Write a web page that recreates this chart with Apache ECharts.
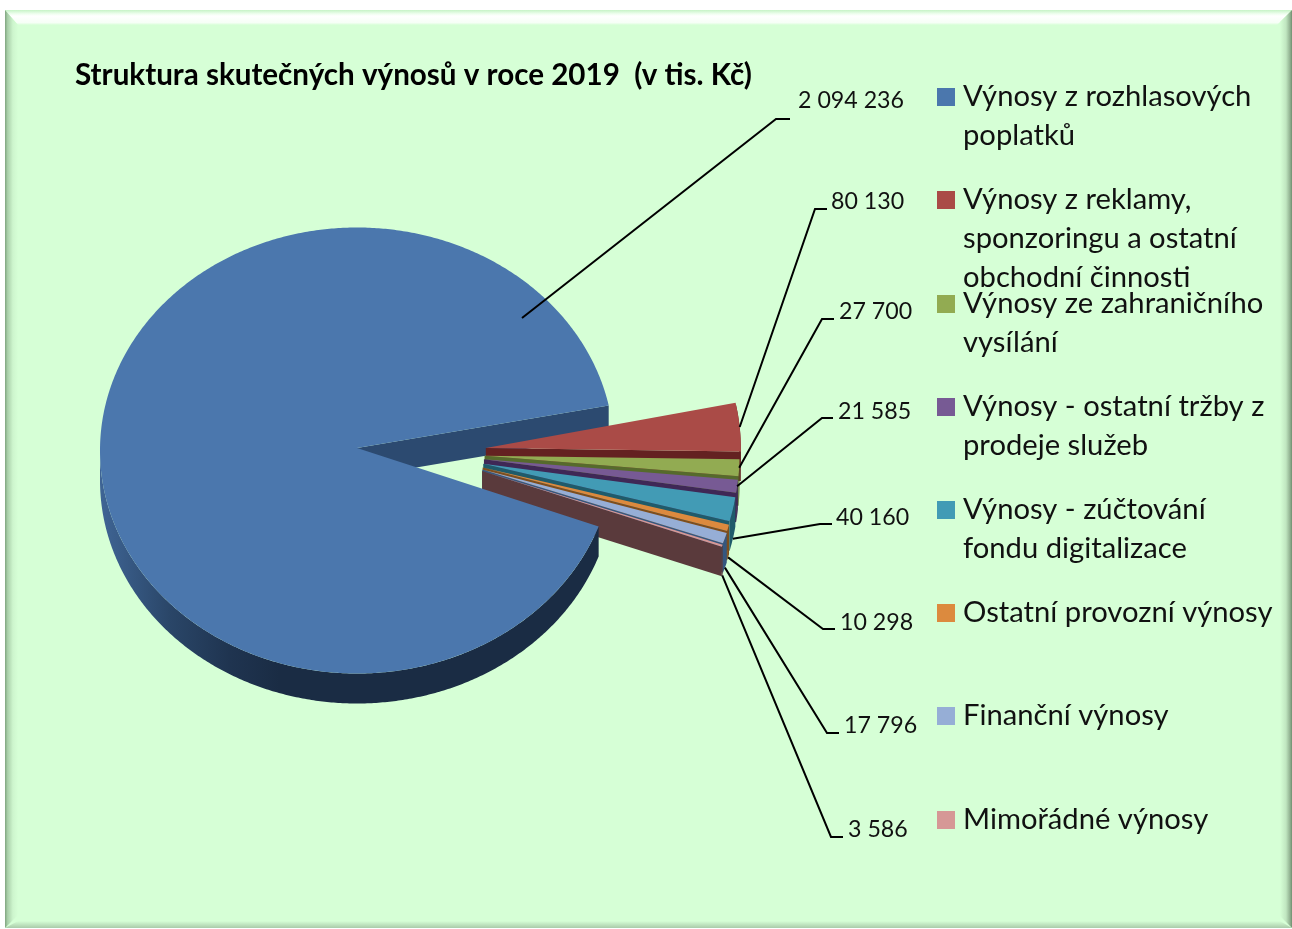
<!DOCTYPE html>
<html>
<head>
<meta charset="utf-8">
<style>html,body{margin:0;padding:0;background:#fff}#c{width:1292px;height:929px}</style>
<script src="https://cdn.jsdelivr.net/npm/echarts@6/dist/echarts.min.js"></script>
</head>
<body>
<div id="c"></div>
<script>
const titleText = 'Struktura skutečných výnosů v roce 2019  (v tis. Kč)';
const categories = ['Výnosy z rozhlasových poplatků','Výnosy z reklamy, sponzoringu a ostatní obchodní činnosti','Výnosy ze zahraničního vysílání','Výnosy - ostatní tržby z prodeje služeb','Výnosy - zúčtování fondu digitalizace','Ostatní provozní výnosy','Finanční výnosy','Mimořádné výnosy'];
const categoryLines = [['Výnosy z rozhlasových','poplatků'],['Výnosy z reklamy,','sponzoringu a ostatní','obchodní činnosti'],['Výnosy ze zahraničního','vysílání'],['Výnosy - ostatní tržby z','prodeje služeb'],['Výnosy - zúčtování','fondu digitalizace'],['Ostatní provozní výnosy'],['Finanční výnosy'],['Mimořádné výnosy']];
const values = [2094236,80130,27700,21585,40160,10298,17796,3586];

// styles
const topColors = ['#4b77ad','#aa4b47','#92ab52','#775a94','#429bb5','#dc8a3e','#96aed6','#d69896'];
const wallColors = ['#2c4a70','#642121','#566a2c','#3f2856','#1f5b6a','#7f4e1c','#35577f','#5a3a3c'];
// layout of the tilted disc
const CX = 357, CY = 449.5, RX = 257, RY = 223, RX_SLICE = 255, DEPTH = 29.5, START = -19.9;
const FONT = 'Lato, Carlito, sans-serif';
// leader lines: knee x, knee y, end x; label x, label y
const leaderLayout = [[776,119,790,798,101],[815,209,827,831,202],[822,319,834,839,312],[822,418,833,838,412],[820,524,832,836,518],[823,629,835,840,623],[827,733,839,844,726],[831,837,843,848,830]];
const legendCenters = [97,200,304,407,510,613,716,820];
const LINE_H = 39;

const total = values.reduce((a,b)=>a+b,0);
function fmt(v){return String(v).replace(/\B(?=(\d{3})+(?!\d))/g,' ');}
function rad(d){return d*Math.PI/180;}
function pt(c,deg,dy){return [c[0]+(c[2]||RX)*Math.cos(rad(deg)), c[1]-RY*Math.sin(rad(deg))+(dy||0)];}
function arc(c,a0,a1,dy){ // a0 > a1, clockwise
  const n=Math.max(2,Math.ceil((a0-a1)/0.5)); const out=[];
  for(let k=0;k<=n;k++) out.push(pt(c,a0+(a1-a0)*k/n,dy));
  return out;
}
function span(i,v){
  let a=START; for(let k=0;k<i;k++) a-=values[k]/total*360;
  if(i>0) a+=360;
  return [a, a-v/total*360];
}
function renderSlice(i){
  return function(params,api){
    const v=api.value(0), s=span(i,v), a0=s[0], a1=s[1];
    const mid=(a0+a1)/2, children=[];
    const poly=(points,fill,z2)=>children.push({type:'polygon',z2:z2,shape:{points:points},style:{fill:fill,stroke:null}});
    let c,anchor;
    if(i===0){
      c=[CX,CY+1];
      const apex=[CX,CY-1.5];
      const rim=pt(c,a1+360);
      poly([apex,rim,[rim[0],rim[1]+DEPTH],[apex[0],apex[1]+DEPTH]],wallColors[0],1);
      const wall=arc(c,a0,-180,0).concat(arc(c,a0,-180,DEPTH+0.5).reverse());
      poly(wall,{type:'linear',x:0,y:0,x2:1,y2:0,colorStops:[{offset:0,color:'#3f6595'},{offset:.14,color:'#2a4668'},{offset:.26,color:'#1f3450'},{offset:.36,color:'#1a2c44'},{offset:1,color:'#1a2c44'}]},30);
      poly([apex].concat(arc(c,a0,a1)),topColors[0],31);
      anchor=[CX+165,CY-131.5];
    }else{
      c=[CX+128+0.15*mid, CY+3.4-0.92*mid, RX_SLICE];
      const z=10+i*2, e=pt(c,a1);
      const flat=[c[0],c[1]];
      poly([flat,e,[e[0],e[1]+DEPTH],[c[0],c[1]+DEPTH]],wallColors[i],z);
      poly(arc(c,a0,a1,0).concat(arc(c,a0,a1,DEPTH).reverse()),wallColors[i],z);
      poly([flat].concat(arc(c,a0,a1)),topColors[i],z+1);
      anchor=pt(c,mid,mid<-10?DEPTH:0);
    }
    const L=leaderLayout[i];
    children.push({type:'polyline',z2:40,shape:{points:[anchor,[L[0],L[1]],[L[2],L[1]]]},style:{stroke:'#000',lineWidth:2,fill:null}});
    children.push({type:'text',z2:41,style:{text:fmt(v),x:L[3],y:L[4],fill:'#111',font:'400 23.2px '+FONT,verticalAlign:'middle',align:'left'}});
    return {type:'group',children:children};
  };
}
const series=values.map((v,i)=>({
  type:'custom',name:categories[i],coordinateSystem:'none',silent:true,z:2,
  itemStyle:{color:topColors[i]},data:[[v]],renderItem:renderSlice(i),animation:false
}));
const legends=categories.map((name,i)=>{
  const lines=categoryLines[i], n=lines.length;
  const text=new Array(n-1).fill(' ').concat(lines).join('\n');
  const h=(2*n-1)*LINE_H;
  return {data:[name],left:937,top:legendCenters[i]-h/2,padding:0,icon:'rect',itemWidth:18,itemHeight:18,itemGap:0,selectedMode:false,orient:'vertical',
    formatter:()=>text,textStyle:{fontFamily:FONT,fontSize:29.2,lineHeight:LINE_H,color:'#111',padding:[0,0,0,3]}};
});
const frame=[
 {type:'rect',z:-5,shape:{x:5,y:10,width:1287,height:918},style:{fill:'#d6ffd6'}},
 {type:'polygon',z:-4,shape:{points:[[5,10],[1292,10],[1277,25],[18,25]]},style:{fill:{type:'linear',x:0,y:0,x2:0,y2:1,colorStops:[{offset:0,color:'#c6f3c6'},{offset:.25,color:'#eefeee'},{offset:.4,color:'#ffffff'},{offset:.85,color:'#f6fff6'},{offset:1,color:'#d6ffd6'}]}}},
 {type:'polygon',z:-4,shape:{points:[[5,10],[18,25],[18,915],[5,928]]},style:{fill:{type:'linear',x:0,y:0,x2:1,y2:0,colorStops:[{offset:0,color:'#7fa47f'},{offset:.2,color:'#a9cfa9'},{offset:.6,color:'#cdf5cd'},{offset:1,color:'#d6ffd6'}]}}},
 {type:'polygon',z:-4,shape:{points:[[1292,10],[1292,928],[1280,916],[1280,22]]},style:{fill:{type:'linear',x:0,y:0,x2:1,y2:0,colorStops:[{offset:0,color:'#d6ffd6'},{offset:.5,color:'#c0e6c0'},{offset:.85,color:'#8fae8f'},{offset:1,color:'#6f8f6f'}]}}},
 {type:'polygon',z:-4,shape:{points:[[5,928],[1292,928],[1280,921],[18,921]]},style:{fill:{type:'linear',x:0,y:0,x2:0,y2:1,colorStops:[{offset:0,color:'#d6ffd6'},{offset:1,color:'#aacbaa'}]}}}
];
const chart=echarts.init(document.getElementById('c'),null,{renderer:'canvas'});
chart.setOption({
  animation:false,backgroundColor:'#fff',
  title:{text:titleText,left:75,top:60,padding:0,textStyle:{fontFamily:FONT,fontWeight:'bold',fontSize:29.6,color:'#000'}},
  tooltip:{show:false},legend:legends,series:series,graphic:{elements:frame}
});
</script>
</body>
</html>
